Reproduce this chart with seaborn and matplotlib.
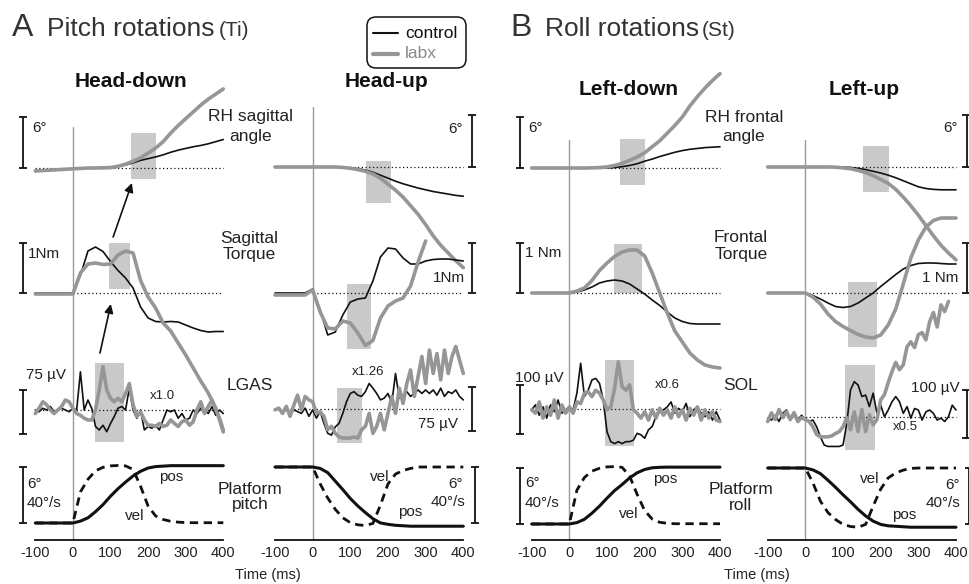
import numpy as np
import matplotlib
matplotlib.use("Agg")
import matplotlib.pyplot as plt
import seaborn as sns
from matplotlib.patches import Rectangle, FancyBboxPatch
from matplotlib.lines import Line2D
from matplotlib.transforms import IdentityTransform

sns.set_theme(style="white")
plt.rcParams['font.family'] = ['Liberation Sans', 'DejaVu Sans']

# ---------------- data ----------------
T20 = list(range(-100, 401, 20))   # sample times (ms) for smooth signals
T10 = list(range(-100, 401, 10))   # sample times (ms) for EMG
nan = np.nan

# Head-down (pitch)
hd_angle_ctrl = [-0.3,-0.25,-0.2,-0.15,-0.1,-0.1,-0.05,0,0,0.05,0.1,0.2,0.35,0.6,0.9,1.1,1.3,1.55,1.85,2.1,2.3,2.5,2.65,2.85,3.1,3.35]
hd_angle_labx = [-0.35,-0.3,-0.25,-0.2,-0.15,-0.1,-0.05,0,0,0.02,0.05,0.2,0.45,0.8,1.2,1.75,2.35,3.1,4.1,5.0,5.8,6.6,7.4,8.1,8.7,9.3]
hd_torque_ctrl = [0,0,0,0,0,0,0.35,0.84,0.92,0.83,0.63,0.45,0.3,0.1,-0.28,-0.5,-0.57,-0.58,-0.57,-0.58,-0.64,-0.7,-0.75,-0.78,-0.77,-0.77]
hd_torque_labx = [-0.02,-0.02,-0.02,-0.02,-0.02,-0.02,0.4,0.58,0.6,0.57,0.58,0.76,0.84,0.8,0.25,-0.08,-0.3,-0.6,-0.76,-1.0,-1.24,-1.5,-1.76,-2.0,-2.3,-2.78]
hd_emg_ctrl = [0,-3,3,0,6,-3,0,3,0,-3,3,0,65,0,17,3,-28,-34,-26,-37,-23,-11,3,6,0,37,0,-14,0,-34,-28,-31,-26,-34,-17,0,-3,0,-14,-6,-17,-14,0,-6,3,0,-6,6,-9,0,-6]
hd_emg_labx = [-6,3,14,9,0,-6,0,6,17,14,3,-6,-9,-14,-17,-17,0,34,74,34,20,14,20,14,28,45,9,-11,-3,-17,-26,-26,-28,-23,-28,-26,-17,-23,-28,-20,-17,-26,-20,0,14,-6,6,17,0,-14,-34]
hd_plat_pos = [0,0,0,0,0,0,0.2,0.55,1.2,1.95,2.85,3.65,4.35,5.0,5.5,5.85,6.0,6.05,6.1,6.1,6.1,6.1,6.1,6.1,6.1,6.1]
hd_plat_vel = [0,0,0,0,0,0,22,31,37,39.5,40.5,40.8,40.5,38,26,12,5,2.5,1.2,0.6,0.3,0.2,0.2,0.2,0.2,0.2]

# Head-up (pitch)
hu_angle_ctrl = [0,0,0,0,0,0,0,0,0,0,-0.1,-0.2,-0.35,-0.6,-0.95,-1.3,-1.65,-1.95,-2.2,-2.45,-2.65,-2.85,-3.0,-3.15,-3.3,-3.4]
hu_angle_labx = [0,0,0,0,0,0,0,0,0,-0.05,-0.15,-0.3,-0.5,-0.8,-1.3,-2.0,-2.7,-3.5,-4.5,-5.5,-6.7,-8.0,-9.1,-10.0,-10.9,-11.7]
hu_torque_ctrl = [0,0,0,0,0,0.08,-0.34,-0.84,-0.78,-0.44,-0.18,-0.12,-0.1,0.24,0.72,0.9,0.88,0.7,0.58,0.58,0.64,0.67,0.68,0.68,0.66,0.64]
hu_torque_labx = [-0.04,-0.04,-0.04,-0.04,-0.04,0.06,-0.38,-0.7,-0.72,-0.56,-0.6,-0.8,-1.05,-0.95,-0.5,-0.26,-0.16,-0.1,0.14,0.62,1.04,nan,nan,nan,nan,nan]
hu_emg_ctrl = [-1,2,-4,-1,-7,-1,-4,-7,2,-12,-1,-15,-4,-24,-41,-44,-30,-24,-7,13,27,30,24,22,30,44,36,27,16,19,27,10,61,19,24,30,22,27,33,27,33,27,33,24,36,22,30,27,33,22,16]
hu_emg_labx = [-1,2,-7,5,-12,7,24,-1,22,16,13,-7,-4,-12,-35,-29,-41,-47,-49,-49,-49,-47,-49,-35,-29,-7,-41,-29,-7,-35,-7,22,-7,36,10,44,67,22,56,90,44,101,61,95,50,101,61,90,107,84,61]
hu_plat_pos = [0,0,0,0,0,0,-0.15,-0.6,-1.5,-2.4,-3.35,-4.15,-4.85,-5.5,-5.95,-6.1,-6.2,-6.25,-6.3,-6.3,-6.3,-6.3,-6.3,-6.3,-6.3,-6.3]
hu_plat_vel = [0,0,0,0,0,0,-12,-22,-30,-36,-39.5,-41,-41.5,-40,-27,-12,-5,-2.5,-1,0,0,0,0,0,0,0]

# Left-down (roll)
ld_angle_ctrl = [0,0,0,0,0,0,0,0,0,0,0,0.05,0.15,0.3,0.5,0.8,1.05,1.35,1.6,1.85,2.05,2.2,2.3,2.4,2.45,2.5]
ld_angle_labx = [0,0,0,0,0,0,0,0,0.02,0.05,0.12,0.3,0.55,0.9,1.3,1.8,2.5,3.2,4.1,5.0,6.0,7.3,8.4,9.4,10.3,11.1]
ld_torque_ctrl = [0,0,0,0,0,0,0.02,0.06,0.12,0.2,0.24,0.26,0.24,0.18,0.08,-0.02,-0.14,-0.25,-0.38,-0.5,-0.57,-0.61,-0.62,-0.62,-0.62,-0.62]
ld_torque_labx = [0,0,0,0,0,0,0.04,0.1,0.25,0.45,0.6,0.73,0.82,0.86,0.86,0.74,0.4,0.0,-0.4,-0.76,-0.98,-1.2,-1.34,-1.44,-1.48,-1.5]
ld_emg_ctrl = [-1,9,-12,5,-18,9,-5,19,-8,-1,5,-1,33,94,26,39,60,63,53,19,-46,-66,-70,-66,-70,-66,-66,-63,-49,-52,-59,-42,-35,-15,-5,-1,5,15,-8,2,-5,12,-15,-1,5,-8,-15,-5,-22,-5,-22]
ld_emg_labx = [-1,-8,15,-18,5,-12,19,-18,9,-8,5,-8,15,12,33,36,26,39,33,19,-1,5,42,97,46,39,50,-1,-8,-18,-5,-22,-1,-18,2,-12,-1,-18,5,-15,-1,-22,2,-12,5,-22,-1,-18,-5,-22,-25]
ld_plat_pos = [0,0,0,0,0,0,0.15,0.5,1.15,1.9,2.75,3.55,4.2,4.9,5.45,5.8,5.98,6.03,6.05,6.05,6.05,6.05,6.05,6.05,6.05,6.05]
ld_plat_vel = [0,0,0,0,0,0,24,33,37.5,39.5,40.5,40.7,40.2,34,21,9.5,3.5,1.2,0.5,0.2,0.2,0.2,0.2,0.2,0.2,0.2]

# Left-up (roll)
lu_angle_ctrl = [0,0,0,0,0,0,0,0,0,0,0,-0.05,-0.15,-0.3,-0.5,-0.7,-0.95,-1.25,-1.6,-1.95,-2.3,-2.5,-2.6,-2.65,-2.65,-2.65]
lu_angle_labx = [0,0,0,0,0,0,0,0,0,-0.02,-0.1,-0.2,-0.4,-0.65,-1.0,-1.45,-1.9,-2.6,-3.5,-4.5,-5.6,-6.8,-8.0,-9.1,-10.0,-10.8]
lu_torque_ctrl = [0,0,0,0,0,0,-0.05,-0.12,-0.2,-0.27,-0.29,-0.27,-0.2,-0.1,0.0,0.13,0.25,0.37,0.48,0.55,0.59,0.6,0.6,0.59,0.58,0.58]
lu_torque_labx = [0,0,0,0,0,0,-0.08,-0.22,-0.42,-0.57,-0.67,-0.75,-0.83,-0.88,-0.9,-0.84,-0.64,-0.32,0.18,0.7,1.06,1.32,1.45,1.5,1.5,1.5]
lu_emg_ctrl = [-3,-7,3,-10,7,14,-3,10,-7,3,-7,-10,-7,-21,-42,-59,-62,-62,-62,-62,-59,-14,56,73,66,42,45,21,49,7,24,0,14,31,42,31,7,21,-3,17,14,-7,10,14,7,-7,-3,-10,0,24,14]
lu_emg_labx = [-10,8,-6,15,-2,10,-6,8,-10,-2,-6,-10,-21,-37,-42,-42,-42,-40,-35,-31,-21,-2,-27,10,-31,15,-31,4,-17,-6,35,46,71,94,113,98,108,146,156,144,171,175,160,198,217,187,233,219,240,nan,nan]
lu_plat_pos = [0,0,0,0,0,0,-0.2,-0.6,-1.3,-2.05,-2.85,-3.6,-4.4,-5.1,-5.65,-6.0,-6.15,-6.2,-6.25,-6.3,-6.3,-6.3,-6.3,-6.3,-6.3,-6.3]
lu_plat_vel = [0,0,0,0,0,0,-10.5,-23.5,-31.6,-36.5,-40,-41.5,-42,-40,-27,-15,-7,-3.5,-1.5,-0.3,0,0,0,0,0,0]

# shaded analysis windows (ms): angle, torque, EMG
hd_windows = [(155, 221), (97, 152), (59, 136)]
hu_windows = [(142, 208), (91, 155), (65, 131)]
ld_windows = [(135, 201), (119, 193), (95, 172)]
lu_windows = [(154, 221), (114, 189), (104, 184)]

titles = ["Head-down", "Head-up", "Left-down", "Left-up"]
emg_gain = ["x1.0", "x1.26", "x0.6", "x0.5"]
emg_bar_uv = [75, 75, 100, 100]
xticks = [-100, 0, 100, 200, 300, 400]

# ---------------- layout (pixels) ----------------
W, H = 969, 584
AXIS_Y = 540
BLACK = '#111111'
GREY = '#969696'
SHADE = '#c9c9c9'
TXT = '#222222'

panels = [
    dict(x0=35.3, x1=223.3, data=(hd_angle_ctrl, hd_angle_labx, hd_torque_ctrl, hd_torque_labx,
                                 hd_emg_ctrl, hd_emg_labx, hd_plat_pos, hd_plat_vel),
         win=hd_windows, ang_base=168, tor_base=293, emg_base=410, plat_base=523, plat_dir=1,
         ang_px=8.5, emg_px=0.587, zero_top=127, bar_t=-132, bar_side='left',
         rect_y=[(133, 179), (243, 289), (363, 442)], emg_bar_top=390),
    dict(x0=275.0, x1=463.3, data=(hu_angle_ctrl, hu_angle_labx, hu_torque_ctrl, hu_torque_labx,
                                  hu_emg_ctrl, hu_emg_labx, hu_plat_pos, hu_plat_vel),
         win=hu_windows, ang_base=167, tor_base=293, emg_base=409.3, plat_base=467, plat_dir=-1,
         ang_px=8.6, emg_px=0.587, zero_top=107, bar_t=424, bar_side='right',
         rect_y=[(161, 203), (284, 349), (388, 443)], emg_bar_top=387),
    dict(x0=531.7, x1=720.0, data=(ld_angle_ctrl, ld_angle_labx, ld_torque_ctrl, ld_torque_labx,
                                  ld_emg_ctrl, ld_emg_labx, ld_plat_pos, ld_plat_vel),
         win=ld_windows, ang_base=168, tor_base=293, emg_base=409.3, plat_base=524, plat_dir=1,
         ang_px=8.5, emg_px=0.49, zero_top=140, bar_t=-131, bar_side='left',
         rect_y=[(139, 185), (244, 293), (360, 446)], emg_bar_top=385),
    dict(x0=767.7, x1=956.0, data=(lu_angle_ctrl, lu_angle_labx, lu_torque_ctrl, lu_torque_labx,
                                  lu_emg_ctrl, lu_emg_labx, lu_plat_pos, lu_plat_vel),
         win=lu_windows, ang_base=167, tor_base=293, emg_base=416.7, plat_base=468, plat_dir=-1,
         ang_px=8.6, emg_px=0.48, zero_top=140, bar_t=428, bar_side='right',
         rect_y=[(146, 192), (282, 347), (365, 450)], emg_bar_top=390),
]
TOR_PX = 50.0     # px per Nm
POS_PX = 9.4      # px per degree (platform)
VEL_PX = 56.4 / 40.0  # px per deg/s

fig = plt.figure(figsize=(W / 100, H / 100), dpi=100)


def ftext(x, y, s, **kw):
    kw.setdefault('color', TXT)
    fig.text(x / W, 1 - y / H, s, **kw)


def line(ax, t, y, color, lw, **kw):
    sns.lineplot(x=t, y=y, ax=ax, color=color, linewidth=lw, estimator=None,
                 sort=False, legend=False, **kw)


def scalebar(ax, t, ytop, ybot):
    ax.plot([t, t], [ytop, ybot], color=BLACK, lw=1.3, clip_on=False, solid_capstyle='butt')
    for yy in (ytop, ybot):
        ax.plot([t - 11, t + 11], [yy, yy], color=BLACK, lw=1.3, clip_on=False,
                solid_capstyle='butt')


axes = []
for p in panels:
    ax = fig.add_axes([p['x0'] / W, (H - AXIS_Y) / H, (p['x1'] - p['x0']) / W, AXIS_Y / H])
    ax.patch.set_alpha(0)
    ax.set_xlim(-100, 400)
    ax.set_ylim(AXIS_Y, 0)
    for s in ('top', 'left', 'right'):
        ax.spines[s].set_visible(False)
    ax.spines['bottom'].set_color(BLACK)
    ax.spines['bottom'].set_linewidth(1.3)
    ax.set_yticks([])
    ax.set_xticks(xticks)
    ax.set_xticklabels([str(v) for v in xticks])
    ax.tick_params(axis='x', direction='in', length=5, width=1.3, pad=4,
                   labelsize=10.5, colors=BLACK, labelcolor=TXT)
    ax.set_xlabel('')
    ax.set_ylabel('')
    axes.append(ax)

    a_c, a_l, t_c, t_l, e_c, e_l, pp, pv = [np.array(d, dtype=float) for d in p['data']]

    # shaded windows
    for (w0, w1), (y0, y1) in zip(p['win'], p['rect_y']):
        ax.add_patch(Rectangle((w0, y0), w1 - w0, y1 - y0, facecolor=SHADE,
                               edgecolor='none', zorder=0.5))
    # zero line
    ax.plot([0, 0], [p['zero_top'], AXIS_Y], color='#9a9a9a', lw=1.0, zorder=0.8)

    # dotted baselines
    dots = dict(color=BLACK, lw=0.9, linestyle=(0, (1, 2)), zorder=1)
    ax.plot([-100, 400], [p['ang_base']] * 2, **dots)
    ax.plot([0, 400], [p['tor_base']] * 2, **dots)
    ax.plot([-100, 400], [p['emg_base']] * 2, **dots)

    # traces: control (thin black) then labx (thick grey) on top
    line(ax, T20, p['ang_base'] - a_c * p['ang_px'], BLACK, 1.2)
    line(ax, T20, p['ang_base'] - a_l * p['ang_px'], GREY, 2.6)
    line(ax, T20, p['tor_base'] - t_c * TOR_PX, BLACK, 1.2)
    line(ax, T20, p['tor_base'] - t_l * TOR_PX, GREY, 2.6)
    line(ax, T10, p['emg_base'] - e_c * p['emg_px'], BLACK, 1.2)
    line(ax, T10, p['emg_base'] - e_l * p['emg_px'], GREY, 2.6)
    line(ax, T20, p['plat_base'] - pv * VEL_PX, BLACK, 2.0, linestyle=(0, (3, 2)))
    line(ax, T20, p['plat_base'] - pp * POS_PX, BLACK, 2.2)
    for l in ax.lines:
        l.set_clip_on(False)

    # scale bars
    bt = p['bar_t']
    scalebar(ax, bt, p['ang_base'] - 6 * p['ang_px'], p['ang_base'])
    scalebar(ax, bt, p['tor_base'] - 1 * TOR_PX, p['tor_base'])
    eb = p['emg_bar_top']
    scalebar(ax, bt, eb, eb + emg_bar_uv[panels.index(p)] * p['emg_px'])
    if p['plat_dir'] == 1:
        scalebar(ax, bt + (0 if p['bar_side'] == 'left' else 7), p['plat_base'] - 6 * POS_PX, p['plat_base'])
    else:
        scalebar(ax, bt + 7, p['plat_base'], p['plat_base'] + 6 * POS_PX)

# arrows (Head-down panel)
ax0 = axes[0]
arrow = dict(arrowstyle='-|>', color=BLACK, lw=1.2, mutation_scale=13, shrinkA=0, shrinkB=0)
ax0.annotate('', xy=(157, 183), xytext=(107, 237), arrowprops=arrow, annotation_clip=False)
ax0.annotate('', xy=(101, 304), xytext=(72, 353), arrowprops=arrow, annotation_clip=False)

# ---------------- texts ----------------
ftext(12, 36, "A", fontsize=23, color='#333333', va='baseline')
ftext(47, 36, "Pitch rotations", fontsize=19, color='#333333', va='baseline')
ftext(219, 36, "(Ti)", fontsize=15, color='#333333', va='baseline')
ftext(510, 36, "B", fontsize=23, color='#333333', va='baseline')
ftext(545, 36, "Roll rotations", fontsize=19, color='#333333', va='baseline')
ftext(702, 36, "(St)", fontsize=15, color='#333333', va='baseline')

for (x, y), s in zip([(131, 87), (387, 87), (629, 95), (864, 95)], titles):
    ftext(x, y, s, fontsize=15, fontweight='bold', color='#111111', ha='center', va='baseline')

mid = dict(fontsize=12.5, ha='center', va='center')
ftext(250, 117, "RH sagittal", **mid); ftext(251, 137, "angle", **mid)
ftext(744, 117, "RH frontal", **mid); ftext(744, 137, "angle", **mid)
ftext(249, 238, "Sagittal", **mid); ftext(249, 255, "Torque", **mid)
ftext(741, 238, "Frontal", **mid); ftext(741, 255, "Torque", **mid)
ftext(250, 386, "LGAS", **mid)
ftext(741, 385, "SOL", **mid)
ftext(250, 489, "Platform", **mid); ftext(250, 505, "pitch", **mid)
ftext(741, 489, "Platform", **mid); ftext(741, 505, "roll", **mid)

ftext(268, 575, "Time (ms)", fontsize=10.5, ha='center', va='center')
ftext(757, 575, "Time (ms)", fontsize=10.5, ha='center', va='center')

sm = dict(fontsize=11, va='center')
L = dict(ha='left', **sm)
R = dict(ha='right', **sm)
# panel 1
ftext(32, 128, "6°", **L); ftext(28, 254, "1Nm", **L); ftext(26, 375, "75 µV", **L)
ftext(27, 484, "6°", **L); ftext(27, 503, "40°/s", **L)
ftext(159, 477, "pos", **L); ftext(125, 516, "vel", **L)
# panel 2
ftext(463, 129, "6°", **R); ftext(465, 278, "1Nm", **R); ftext(458, 424, "75 µV", **R)
ftext(463, 484, "6°", **R); ftext(465, 502, "40°/s", **R)
ftext(370, 477, "vel", **L); ftext(398, 512, "pos", **L)
# panel 3
ftext(528, 128, "6°", **L); ftext(525, 253, "1 Nm", **L); ftext(515, 378, "100 µV", **L)
ftext(525, 483, "6°", **L); ftext(525, 503, "40°/s", **L)
ftext(653, 479, "pos", **L); ftext(619, 514, "vel", **L)
# panel 4
ftext(958, 128, "6°", **R); ftext(958, 278, "1 Nm", **R); ftext(960, 388, "100 µV", **R)
ftext(960, 485, "6°", **R); ftext(960, 503, "40°/s", **R)
ftext(860, 479, "vel", **L); ftext(892, 515, "pos", **L)
# EMG gains
for (x, y), s in zip([(150, 396), (352, 372), (655, 385), (893, 427)], emg_gain):
    ftext(x, y, s, fontsize=9.5, ha='left', va='center')

# legend box
box = FancyBboxPatch((367, H - 68), 99, 51, boxstyle='round,pad=0,rounding_size=9',
                     transform=IdentityTransform(), facecolor='white', edgecolor=BLACK, lw=1.1)
fig.add_artist(box)
fig.add_artist(Line2D([373 / W, 398 / W], [1 - 33 / H] * 2, transform=fig.transFigure,
                      color=BLACK, lw=1.5))
fig.add_artist(Line2D([373 / W, 398 / W], [1 - 54 / H] * 2, transform=fig.transFigure,
                      color=GREY, lw=3.0))
ftext(405, 33, "control", fontsize=12.5, va='center', ha='left', color='#111111')
ftext(405, 54, "labx", fontsize=12.5, va='center', ha='left', color='#8a8a8a')

fig.savefig("out.png", dpi=100)
